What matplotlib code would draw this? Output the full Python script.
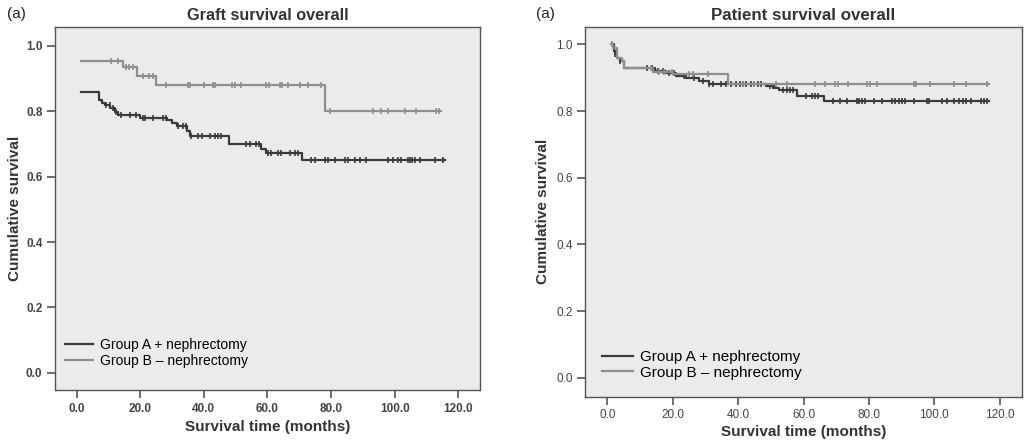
import numpy as np
import matplotlib.pyplot as plt

plt.rcParams['font.family'] = ['Liberation Sans', 'DejaVu Sans']

# ---- Graft survival (left) ----
graft_a_t = [1.5, 7.0, 8.0, 9.0, 10.5, 12.0, 13.0, 20.0, 28.5, 30.0, 31.5, 34.8, 35.5, 48.0, 58.0, 59.5, 71.0, 115.7]
graft_a_s = [0.858, 0.835, 0.826, 0.818, 0.809, 0.798, 0.789, 0.781, 0.772, 0.763, 0.754, 0.740, 0.725, 0.700, 0.686, 0.672, 0.652, 0.652]
graft_a_cens = [9.3, 10.4, 11.4, 12.5, 14.0, 16.7, 18.8, 20.9, 21.4, 24.0, 27.2, 28.2, 31.9, 33.4, 34.3,
                36.1, 38.2, 39.5, 41.8, 43.4, 44.4, 45.5, 53.4, 54.4, 56.5, 57.3, 60.2, 61.2, 63.3, 64.4,
                67.0, 68.6, 69.6, 73.8, 74.8, 78.0, 79.0, 81.1, 84.3, 85.3, 87.4, 89.0, 90.9, 97.9, 99.5,
                101.0, 102.1, 104.2, 104.7, 105.3, 106.3, 107.9, 112.6, 115.2]

graft_b_t = [1.3, 14.6, 19.0, 24.8, 78.0, 114.7]
graft_b_s = [0.955, 0.935, 0.909, 0.880, 0.800, 0.800]
graft_b_cens = [10.9, 13.0, 15.5, 16.6, 17.6, 20.8, 22.6, 24.0, 28.0, 35.0, 35.8, 40.0, 42.9, 43.6,
                49.0, 49.7, 51.8, 59.6, 60.4, 63.8, 64.6, 66.4, 70.1, 72.7, 76.9, 79.7, 93.2, 95.8,
                97.9, 103.1, 106.8, 113.1, 113.8]

# ---- Patient survival (right) ----
pat_a_t = [1.5, 2.0, 2.5, 3.0, 4.0, 5.0, 14.5, 18.0, 21.0, 24.0, 28.0, 31.0, 48.5, 51.0, 52.5, 58.0, 66.2, 116.7]
pat_a_s = [1.0, 0.98, 0.97, 0.96, 0.95, 0.928, 0.92, 0.913, 0.906, 0.90, 0.89, 0.881, 0.875, 0.868, 0.862, 0.845, 0.831, 0.831]
pat_a_cens = [2.5, 4.0, 12.3, 13.8, 15.4, 16.9, 18.9, 20.5, 23.5, 26.6, 29.2, 31.2, 32.3, 34.8, 36.4,
              37.9, 39.4, 40.5, 41.5, 42.5, 44.0, 45.0, 46.1, 47.1, 49.6, 50.7, 53.8, 54.8, 55.8, 56.8,
              60.9, 62.5, 63.5, 64.5, 69.1, 71.2, 73.2, 76.3, 76.9, 77.8, 78.8, 81.4, 84.0, 87.0,
              88.1, 89.1, 90.1, 91.1, 93.7, 97.8, 98.3, 102.4, 103.9, 106.0, 107.5, 108.6, 109.6,
              111.1, 114.2, 115.2, 116.2]

pat_b_t = [1.2, 1.8, 3.0, 4.5, 5.0, 14.0, 20.0, 37.0, 116.7]
pat_b_s = [1.0, 0.99, 0.96, 0.95, 0.928, 0.918, 0.911, 0.881, 0.881]
pat_b_cens = [1.5, 13.3, 15.9, 17.4, 19.9, 25.1, 26.1, 30.7, 41.5, 45.0, 51.7, 54.8, 63.5, 66.5, 69.6,
              70.4, 73.7, 79.4, 80.2, 82.4, 93.7, 94.5, 98.8, 106.0, 109.6, 116.2]

labels = ['Group A + nephrectomy', 'Group B \u2013 nephrectomy']
col_a = '#3a3a3a'
col_b = '#8e8e8e'
bg = '#ebebeb'

fig = plt.figure(figsize=(10.24, 4.43), dpi=100)


def km(ax, t, s, cens, color, label):
    ax.step(t, s, where='post', color=color, lw=1.6, label=label)
    idx = np.searchsorted(t, cens, side='right') - 1
    ax.plot(cens, np.array(s)[idx], ls='none', marker='|', ms=5, mew=1.2, color=color)


def setup(ax, title, title_size, bold_ticks, xlab_pad, ylab_pad, ylim):
    ax.set_facecolor(bg)
    ax.set_xlim(-6.8, 126.8)
    ax.set_ylim(*ylim)
    ax.set_xticks(np.arange(0, 121, 20))
    ax.set_yticks(np.arange(0, 1.01, 0.2))
    w = 'bold' if bold_ticks else 'normal'
    ax.set_xticklabels(['%.1f' % v for v in np.arange(0, 121, 20)], fontsize=8.5, weight=w, color='#444444')
    ax.set_yticklabels(['%.1f' % v for v in np.arange(0, 1.01, 0.2)], fontsize=8.5, weight=w, color='#444444')
    for sp in ax.spines.values():
        sp.set_color('#555555')
        sp.set_linewidth(1.0)
    ax.tick_params(length=6, width=1.2, color='#555555', pad=3)
    ax.set_xlabel('Survival time (months)', fontsize=11, weight='bold', color='#333333', labelpad=xlab_pad)
    ax.set_ylabel('Cumulative survival', fontsize=11, weight='bold', color='#333333', labelpad=ylab_pad)
    ax.set_title(title, fontsize=title_size, weight='bold', color='#333333', pad=5)


ax1 = fig.add_axes([0.0537, 0.1196, 0.415, 0.8194])
km(ax1, graft_a_t, graft_a_s, graft_a_cens, col_a, labels[0])
km(ax1, graft_b_t, graft_b_s, graft_b_cens, col_b, labels[1])
setup(ax1, 'Graft survival overall', 11.7, True, 4, 3, (-0.053, 1.058))
ax1.legend(loc='lower left', bbox_to_anchor=(0.01, 0.045), frameon=False, fontsize=10,
           handlelength=2.0, handletextpad=0.5, labelspacing=0.15, borderaxespad=0)
fig.text(0.007, 0.968, '(a)', fontsize=11, color='#222222', va='center')

ax2 = fig.add_axes([0.5713, 0.1045, 0.4268, 0.8345])
km(ax2, pat_a_t, pat_a_s, pat_a_cens, col_a, labels[0])
km(ax2, pat_b_t, pat_b_s, pat_b_cens, col_b, labels[1])
setup(ax2, 'Patient survival overall', 12.2, False, 3, 4, (-0.057, 1.052))
ax2.legend(loc='lower left', bbox_to_anchor=(0.025, 0.03), frameon=False, fontsize=11,
           handlelength=2.0, handletextpad=0.5, labelspacing=0.1, borderaxespad=0)
fig.text(0.523, 0.968, '(a)', fontsize=11, color='#222222', va='center')

fig.savefig('out.png', dpi=100)
